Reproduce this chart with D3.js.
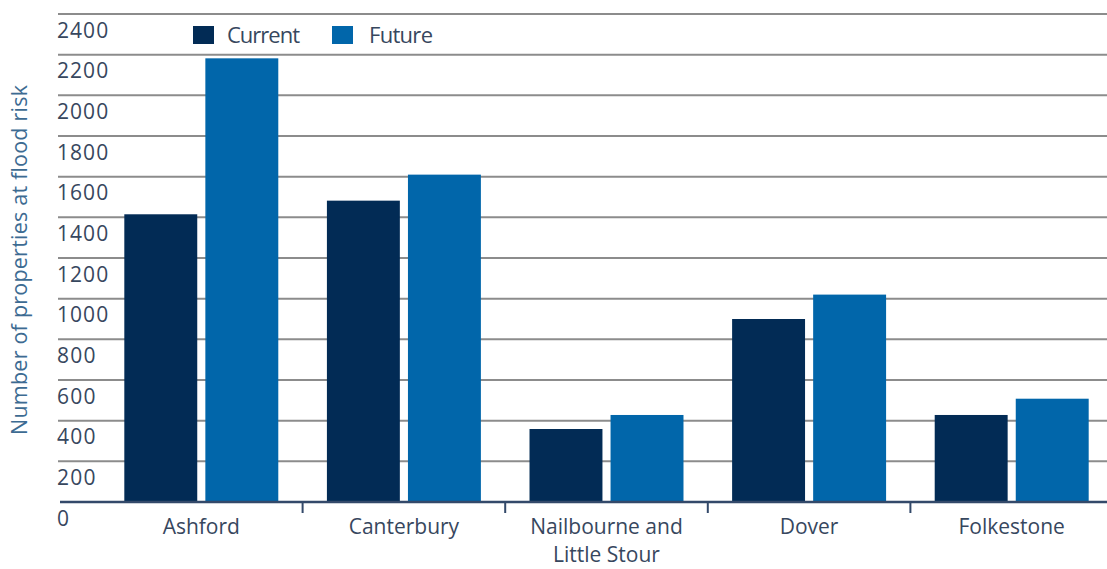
<!DOCTYPE html>
<html>
<head>
<meta charset="utf-8">
<script src="https://cdn.jsdelivr.net/npm/d3@7/dist/d3.min.js"></script>
<style>
  body { margin: 0; background: #fff; }
  svg { display: block; font-family: "Open Sans", sans-serif; }
</style>
</head>
<body>
<svg id="chart" width="1107" height="569"></svg>
<script>
var categories = ["Ashford", "Canterbury", "Nailbourne and|Little Stour", "Dover", "Folkestone"];
var series = ["Current", "Future"];
var currentValues = [1415, 1482, 359, 900, 428];
var futureValues = [2182, 1610, 428, 1020, 508];
var yTicks = [0, 200, 400, 600, 800, 1000, 1200, 1400, 1600, 1800, 2000, 2200, 2400];
var colors = ["#022b55", "#0166aa"];

var svg = d3.select("#chart");

var y = d3.scaleLinear().domain([0, 2400]).range([502, 14]);

var x0 = d3.scaleBand()
  .domain(categories)
  .range([100, 1113])
  .paddingInner(0.24)
  .paddingOuter(0.12);

var x1 = d3.scaleBand()
  .domain(series)
  .range([0, x0.bandwidth()])
  .paddingInner(0.1);

// gridlines
svg.append("g")
  .selectAll("line")
  .data(yTicks.filter(function(d) { return d > 0; }))
  .enter().append("line")
  .attr("x1", 58).attr("x2", 1107)
  .attr("y1", function(d) { return y(d); })
  .attr("y2", function(d) { return y(d); })
  .attr("stroke", "#8c8c8c")
  .attr("stroke-width", 2);

// tick labels, sitting just under their gridline
svg.append("g")
  .selectAll("text")
  .data(yTicks)
  .enter().append("text")
  .attr("x", 57)
  .attr("y", function(d) { return y(d) + 23.5; })
  .attr("fill", "#37475e")
  .attr("font-size", 21)
  .attr("textLength", function(d) { return String(d).length * 12.8; })
  .text(function(d) { return d; });

// bars
var groups = svg.append("g")
  .selectAll("g")
  .data(categories)
  .enter().append("g")
  .attr("transform", function(d) { return "translate(" + x0(d) + ",0)"; });

groups.selectAll("rect")
  .data(function(d, i) {
    return [
      { key: "Current", value: currentValues[i] },
      { key: "Future", value: futureValues[i] }
    ];
  })
  .enter().append("rect")
  .attr("x", function(d) { return x1(d.key); })
  .attr("y", function(d) { return y(d.value); })
  .attr("width", x1.bandwidth())
  .attr("height", function(d) { return y(0) - y(d.value); })
  .attr("fill", function(d, i) { return colors[i]; });

// baseline
svg.append("line")
  .attr("x1", 60).attr("x2", 1107)
  .attr("y1", y(0)).attr("y2", y(0))
  .attr("stroke", "#33496a")
  .attr("stroke-width", 2.5);

// separator ticks between categories
var step = x0.step();
svg.append("g")
  .selectAll("line")
  .data(categories.slice(1))
  .enter().append("line")
  .attr("x1", function(d) { return x0(d) - step * x0.paddingInner() / 2; })
  .attr("x2", function(d) { return x0(d) - step * x0.paddingInner() / 2; })
  .attr("y1", y(0)).attr("y2", y(0) + 11)
  .attr("stroke", "#33496a")
  .attr("stroke-width", 2);

// category labels
var catLabels = svg.append("g")
  .selectAll("text")
  .data(categories)
  .enter().append("text")
  .attr("text-anchor", "middle")
  .attr("fill", "#37475e")
  .attr("font-size", 21)
  .attr("x", function(d) { return x0(d) + x0.bandwidth() / 2; })
  .attr("y", 534);

catLabels.selectAll("tspan")
  .data(function(d) { return d.split("|"); })
  .enter().append("tspan")
  .attr("x", function() { return d3.select(this.parentNode).attr("x"); })
  .attr("dy", function(d, i) { return i === 0 ? 0 : 28; })
  .text(function(d) { return d; });

// y axis title
svg.append("text")
  .attr("transform", "translate(27,260) rotate(-90)")
  .attr("text-anchor", "middle")
  .attr("fill", "#3d6b92")
  .attr("font-size", 21.5)
  .attr("textLength", 350)
  .text("Number of properties at flood risk");

// legend
var legendX = [193, 332];
var legend = svg.append("g")
  .selectAll("g")
  .data(series)
  .enter().append("g")
  .attr("transform", function(d, i) { return "translate(" + legendX[i] + ",26)"; });

legend.append("rect")
  .attr("width", 21).attr("height", 18)
  .attr("fill", function(d, i) { return colors[i]; });

legend.append("text")
  .attr("x", function(d, i) { return i === 0 ? 34 : 37; })
  .attr("y", 17)
  .attr("fill", "#37475e")
  .attr("font-size", 22)
  .attr("textLength", function(d, i) { return i === 0 ? 73 : 64; })
  .text(function(d) { return d; });
</script>
</body>
</html>
